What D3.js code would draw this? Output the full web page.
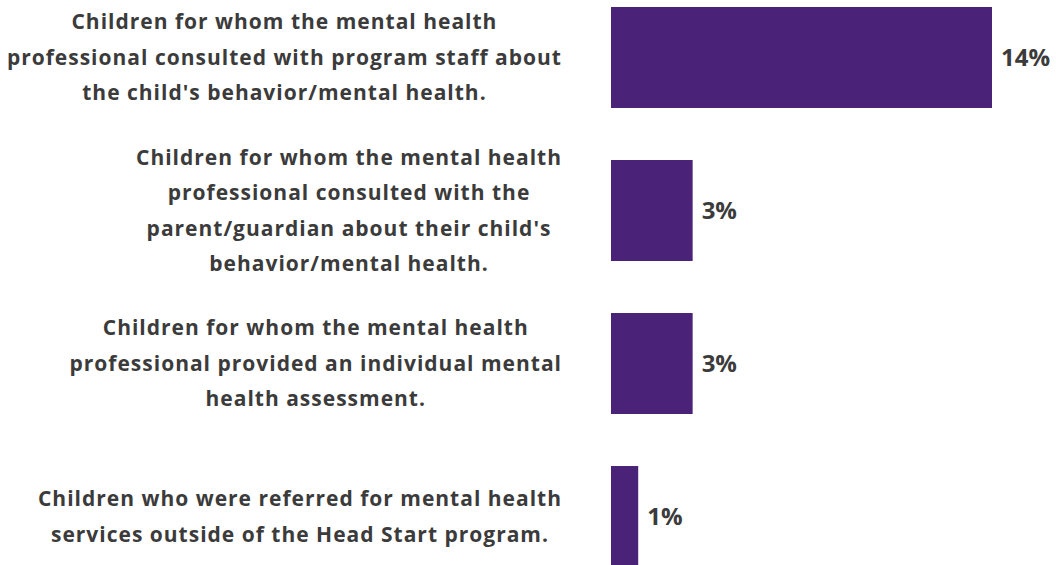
<!DOCTYPE html>
<html>
<head>
<meta charset="utf-8">
<script src="https://cdn.jsdelivr.net/npm/d3@7"></script>
<style>
  html, body { margin: 0; padding: 0; background: #fff; }
  svg { display: block; }
  text { font-family: "Open Sans", "Noto Sans", sans-serif; font-weight: 700; fill: #3b3b3b; }
  text.cat { letter-spacing: 1px; }
</style>
</head>
<body>
<svg id="chart" width="1056" height="565"></svg>
<script>
// Mental health services reported for enrolled children
const categories = [
  ["Children for whom the mental health", "professional consulted with program staff about", "the child's behavior/mental health."],
  ["Children for whom the mental health", "professional consulted with the", "parent/guardian about their child's", "behavior/mental health."],
  ["Children for whom the mental health", "professional provided an individual mental", "health assessment."],
  ["Children who were referred for mental health", "services outside of the Head Start program."]
];
const values = [14, 3, 3, 1];
const valueLabels = ["14%", "3%", "3%", "1%"];

const svg = d3.select("#chart");
const barLeft = 611;
const labelRight = 562;
const lineHeight = 35.5;
const catFontSize = 21;
const valueFontSize = 24;

const x = d3.scaleLinear().domain([0, 14]).range([barLeft, 992]);
const y = d3.scaleBand()
  .domain(d3.range(values.length))
  .range([7, 567])
  .paddingInner(0.34)
  .paddingOuter(0);

// bars
svg.selectAll("rect.bar")
  .data(values)
  .join("rect")
  .attr("class", "bar")
  .attr("x", x(0))
  .attr("y", (d, i) => y(i))
  .attr("width", d => x(d) - x(0))
  .attr("height", y.bandwidth())
  .attr("fill", "#4a2378");

// value labels
svg.selectAll("text.value")
  .data(values)
  .join("text")
  .attr("class", "value")
  .attr("x", d => x(d) + 9)
  .attr("y", (d, i) => y(i) + y.bandwidth() / 2)
  .attr("dy", "0.35em")
  .style("font-size", valueFontSize + "px")
  .text((d, i) => valueLabels[i]);

// category labels: lines centred within a block aligned to the right edge
categories.forEach((lines, i) => {
  const g = svg.append("g");
  const cy = y(i) + y.bandwidth() / 2;
  const texts = lines.map((line, j) =>
    g.append("text")
      .attr("class", "cat")
      .style("font-size", catFontSize + "px")
      .attr("y", cy + (j - (lines.length - 1) / 2) * lineHeight)
      .attr("dy", "0.35em")
      .attr("text-anchor", "middle")
      .text(line)
  );
  const maxW = d3.max(texts, t => t.node().getComputedTextLength());
  texts.forEach(t => t.attr("x", labelRight - maxW / 2));
});
</script>
</body>
</html>
